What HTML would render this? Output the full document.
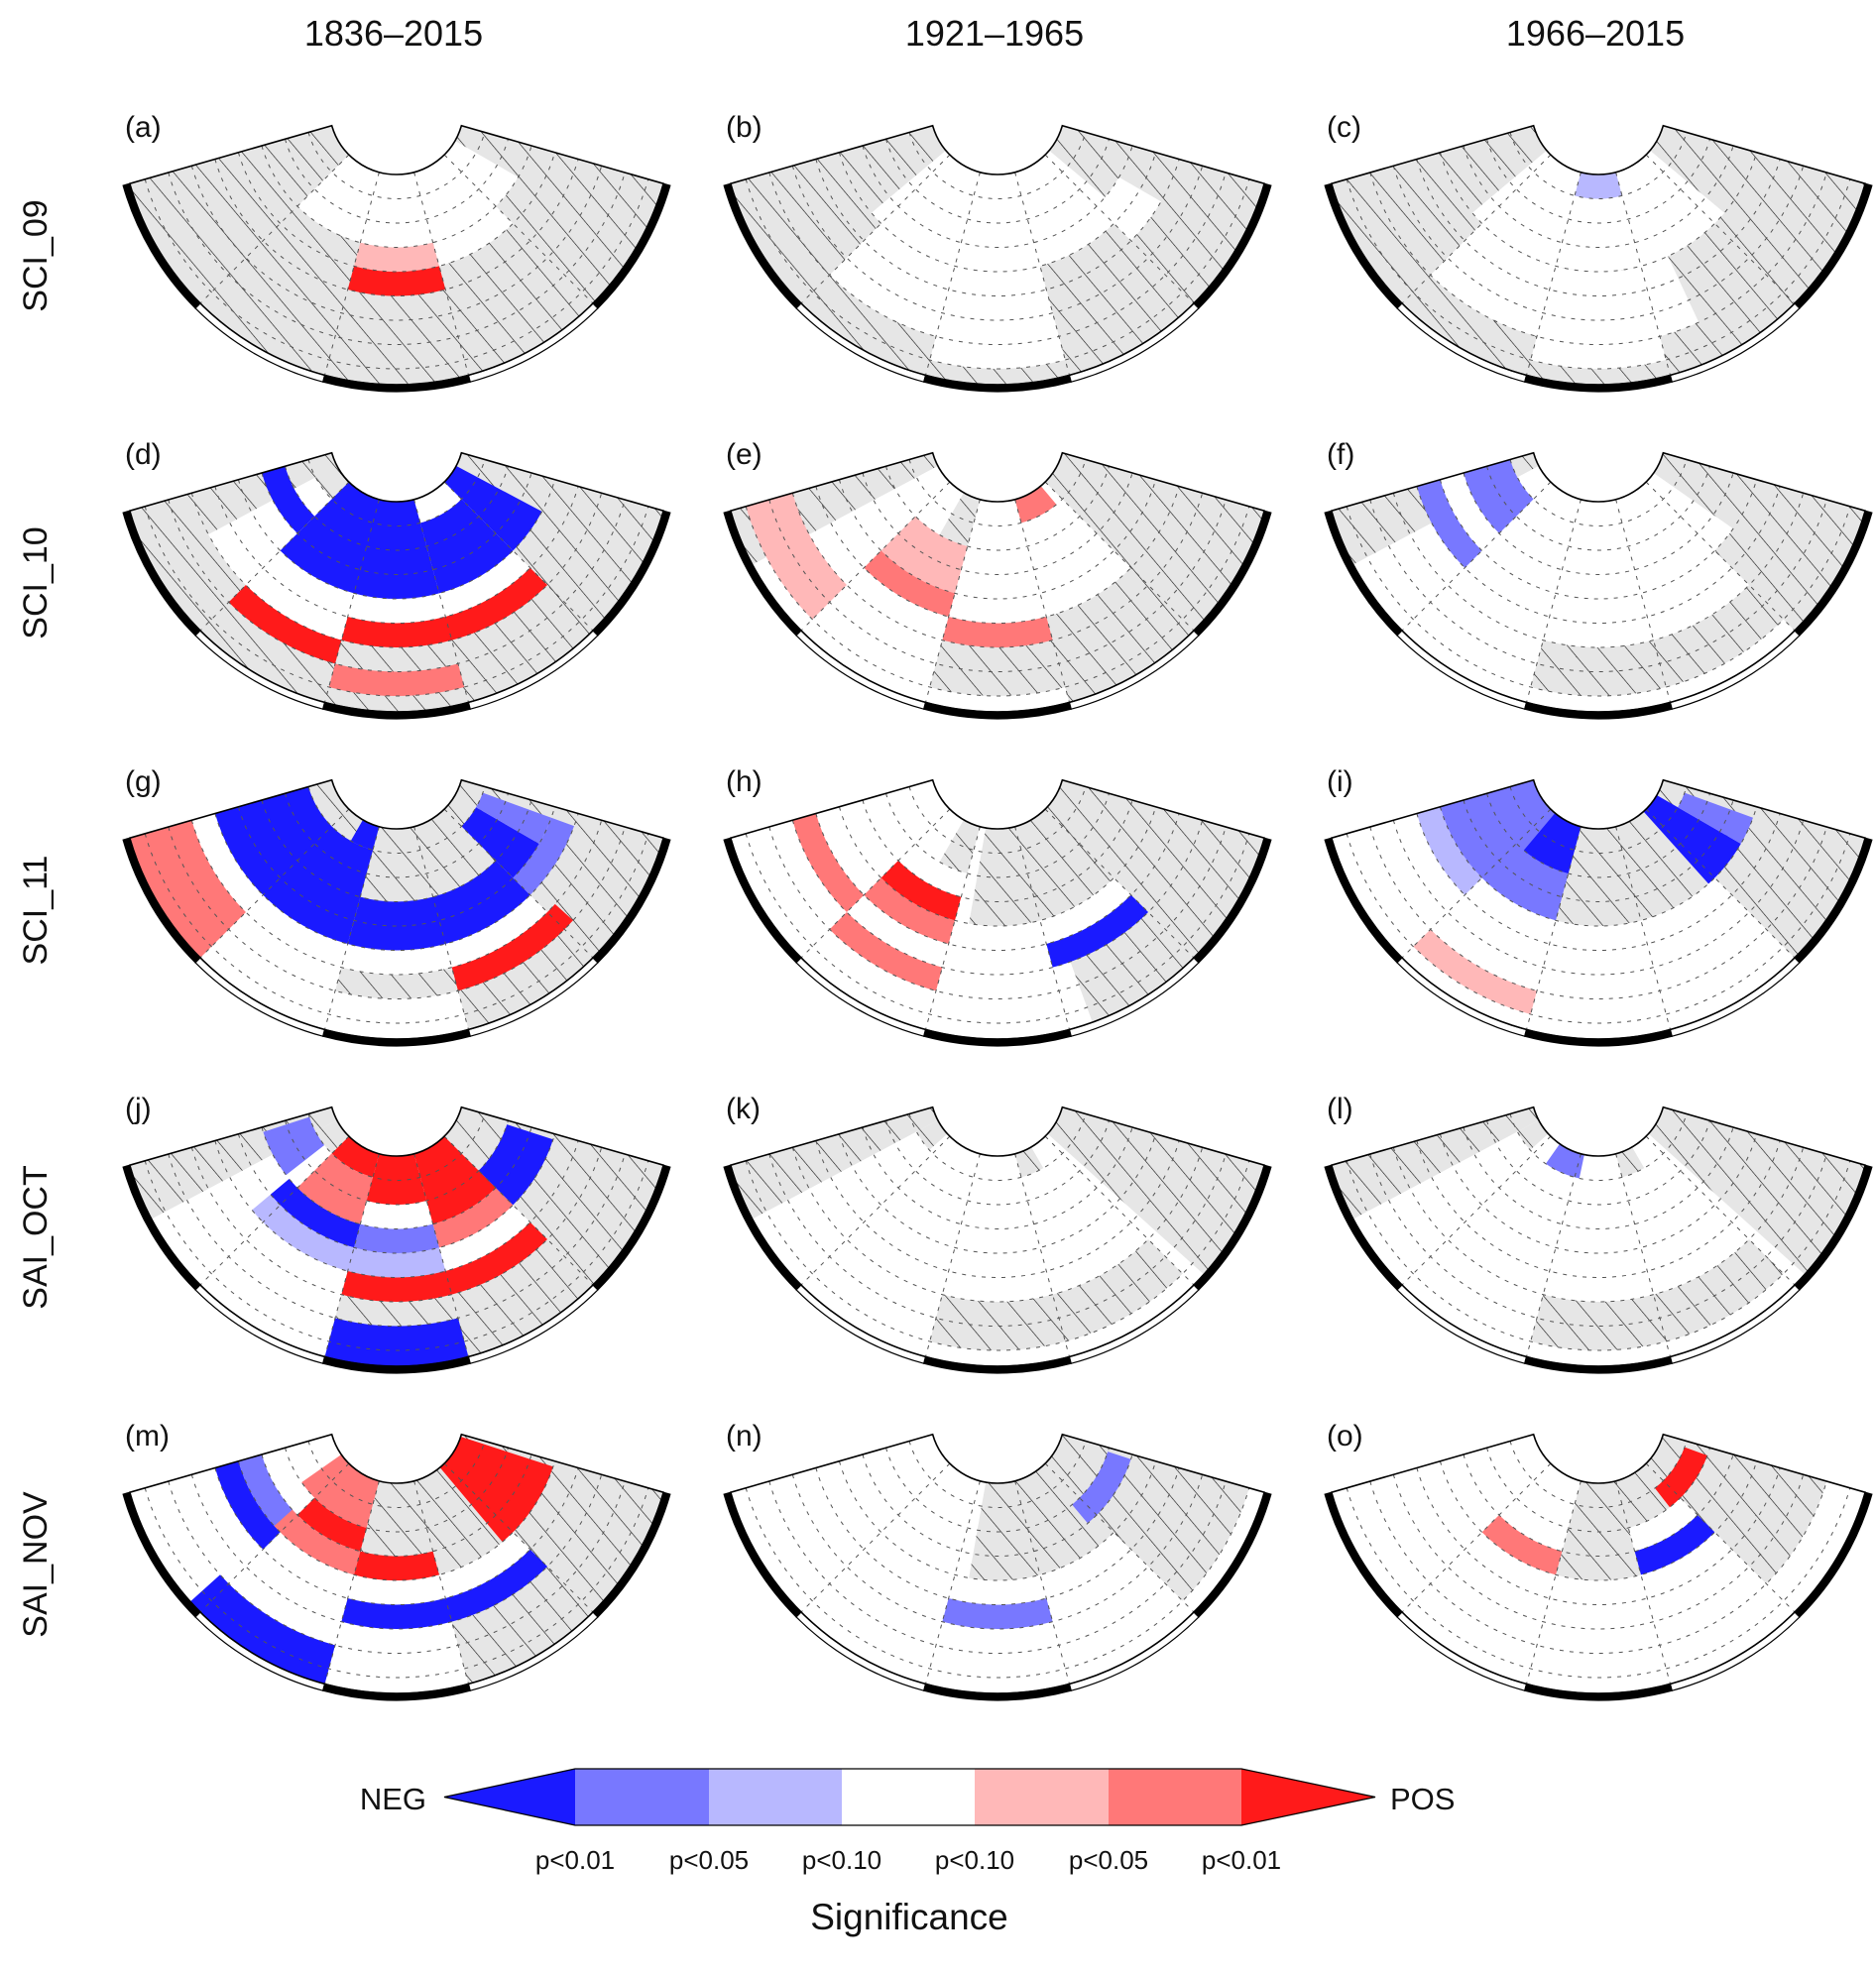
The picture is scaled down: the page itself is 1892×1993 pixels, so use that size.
<!DOCTYPE html>
<html><head><meta charset="utf-8">
<style>
html,body{margin:0;padding:0;background:#fff;}
svg{display:block;font-family:"Liberation Sans",Arial,sans-serif;}
</style></head>
<body>
<svg id="fig" xmlns="http://www.w3.org/2000/svg" width="1892" height="1993" viewBox="0 0 1892 1993">
<defs>
<pattern id="hatch" patternUnits="userSpaceOnUse" width="22" height="22" patternTransform="rotate(-40)">
<rect width="22" height="22" fill="#e6e6e6"/>
<line x1="0" y1="0" x2="0" y2="22" stroke="#111" stroke-width="1.2"/>
</pattern>
</defs>
<g id="panels"></g>
<g id="legend"></g>
</svg>
<script>
// ---- data ----
const colTitles = ["1836\u20132015", "1921\u20131965", "1966\u20132015"];
const rowLabels = ["SCI_09", "SCI_10", "SCI_11", "SAI_OCT", "SAI_NOV"];
const panelLetters = ["a","b","c","d","e","f","g","h","i","j","k","l","m","n","o"];
const panelBg = ["G","G","G","G","G","G","G","W","W","W","W","W","W","W","W"];
// cells: [bandStart, bandEnd, lonStart(deg), lonEnd(deg), code]
const cellsA = [[0,3,-45,60,"W"],[3,4,15,45,"W"],[3,4,-15,15,1],[4,5,-15,15,3]];
const cellsB = [[0,4,-50,50,"W"],[4,7,-45,15,"W"],[7,8,-15,15,"W"],[3,5,45,60,"W"]];
const cellsC = [[0,4,-50,50,"W"],[4,7,-45,25,"W"],[7,8,-15,15,"W"],[0,1,-15,15,-1]];
const cellsD = [[1,6,-62,-45,"W"],[4,6,-45,-15,"W"],[4,5,-15,45,"W"],[0,4,-45,15,-3],[1,4,15,45,-3],[0,1,15,45,"W"],[0,4,45,62,-3],[2,3,-75,-45,-3],[5,6,-15,45,3],[6,7,-45,-15,3],[7,8,-15,15,2]];
const cellsE = [[0,9,-62,15,"W"],[0,2,-30,-15,"G"],[6,8,-15,15,"G"],[0,5,15,45,"W"],[6,8,-75,-45,1],[2,4,-45,-15,1],[4,5,-45,-15,2],[5,6,-15,15,2],[0,1,15,40,2]];
const cellsF = [[0,9,-62,45,"W"],[6,8,-15,45,"G"],[0,4,45,55,"W"],[1,3,-75,-45,-2],[3,4,-75,-45,"W"],[4,5,-75,-45,-2]];
const cellsG = [[5,9,-75,15,"W"],[5,6,15,45,"W"],[6,7,-15,15,"G"],[6,9,-75,-45,2],[1,5,-75,-15,-3],[0,1,-30,-15,-3],[3,5,-15,45,-3],[1,4,45,60,-3],[1,4,60,70,-2],[4,5,45,70,-2],[6,7,15,48,3]];
const cellsH = [[0,4,-10,45,"G"],[0,9,45,75,"G"],[6,9,20,45,"G"],[0,2,-30,-15,"G"],[5,6,-75,-45,2],[3,4,-45,-15,3],[4,5,-45,-15,2],[6,7,-45,-15,2],[5,6,15,45,-3]];
const cellsI = [[0,4,-15,45,"G"],[0,9,45,75,"G"],[0,4,-75,-15,-2],[0,2,-40,-15,-3],[4,5,-75,-45,-1],[0,4,42,60,-3],[1,4,60,70,-2],[7,8,-45,-15,1]];
const cellsJ = [[0,9,-75,-62,"G"],[0,9,45,75,"G"],[6,9,15,45,"G"],[6,7,-15,15,"G"],[0,1,-62,-45,"G"],[0,1,-45,-15,3],[1,3,-45,-15,2],[0,2,-15,15,3],[0,3,15,45,3],[3,4,15,45,2],[2,4,45,72,-3],[1,3,-72,-52,-2],[3,4,-50,-15,-3],[3,4,-15,15,-2],[4,5,-50,15,-1],[5,6,-15,45,3],[7,9,-15,15,-3]];
const cellsK = [[0,9,-75,-62,"G"],[0,9,48,75,"G"],[6,8,-15,45,"G"],[0,1,-62,-48,"G"],[0,1,15,30,"G"]];
const cellsL = [[0,9,-75,-62,"G"],[0,9,48,75,"G"],[6,8,-15,45,"G"],[0,1,-62,-48,"G"],[0,1,15,30,"G"],[0,1,-35,-12,-2]];
const cellsM = [[0,9,45,75,"G"],[6,9,15,45,"G"],[0,4,-15,45,"G"],[4,5,-75,-45,-3],[3,4,-75,-45,-2],[0,2,-55,-15,2],[2,3,-45,-15,3],[3,4,-48,-15,2],[3,4,-15,15,3],[5,6,-15,45,-3],[7,9,-48,-15,-3],[0,4,40,72,3]];
const cellsN = [[0,4,-10,45,"G"],[0,8,45,75,"G"],[2,3,40,72,-2],[5,6,-15,15,-2]];
const cellsO = [[0,4,-15,15,"G"],[0,7,45,75,"G"],[0,2,15,45,"G"],[1,2,38,70,3],[3,4,15,45,-3],[3,4,-45,-15,2]];
const panelCells = [cellsA,cellsB,cellsC,cellsD,cellsE,cellsF,cellsG,cellsH,cellsI,cellsJ,cellsK,cellsL,cellsM,cellsN,cellsO];
const legendCodes = [-3,-2,-1,0,1,2,3];
const legendLabels = ["p<0.01","p<0.05","p<0.10","p<0.10","p<0.05","p<0.01"];

// ---- geometry ----
const NS = "http://www.w3.org/2000/svg";
const colors = {"-3":"#1a1aff","-2":"#7878ff","-1":"#b8b8ff","0":"#ffffff","1":"#ffb8b8","2":"#ff7878","3":"#ff1a1a","W":"#ffffff","G":"url(#hatch)"};
const TH = 74, R0 = 68, DR = 24.5, ROUT = 280;
function bandR(k){ return Math.min(R0 + DR*k, ROUT); }
function clampT(t){ return Math.max(-TH, Math.min(TH, t)); }
function cxOf(col){ return 400 + col*606; }
function cyOf(row){ return 108 + row*330; }
function pt(cx,cy,r,t){ const a=t*Math.PI/180; return [cx + r*Math.sin(a), cy + r*Math.cos(a)]; }
function sectorPath(cx,cy,r0,r1,t0,t1){
  t0=clampT(t0); t1=clampT(t1);
  const a=pt(cx,cy,r0,t0), b=pt(cx,cy,r0,t1), c=pt(cx,cy,r1,t1), d=pt(cx,cy,r1,t0);
  return `M${a[0].toFixed(2)},${a[1].toFixed(2)} A${r0},${r0} 0 0 0 ${b[0].toFixed(2)},${b[1].toFixed(2)} L${c[0].toFixed(2)},${c[1].toFixed(2)} A${r1},${r1} 0 0 1 ${d[0].toFixed(2)},${d[1].toFixed(2)} Z`;
}
function mk(tag, attrs, parent){
  const e=document.createElementNS(NS,tag);
  for(const k in attrs) e.setAttribute(k, attrs[k]);
  parent.appendChild(e); return e;
}
const root=document.getElementById("panels");

colTitles.forEach((t,i)=>{
  const e=mk("text",{x:cxOf(i)-3,y:46,"font-size":36,"text-anchor":"middle",fill:"#111"},root);
  
  
  e.textContent=t;
});
rowLabels.forEach((t,i)=>{
  const y=cyOf(i)+150;
  const e=mk("text",{x:0,y:0,"font-size":34,"text-anchor":"middle",fill:"#111",transform:`translate(47,${y}) rotate(-90)`},root);
  
  
  e.textContent=t;
});

panelLetters.forEach((L,idx)=>{
  const row=Math.floor(idx/3), col=idx%3;
  const cx=cxOf(col), cy=cyOf(row);
  const g=mk("g",{},root);
  
  
  const lab=mk("text",{x:cx-274,y:cy+30,"font-size":30,fill:"#111"},g);
  
  
  lab.textContent="("+L+")";
  const bg=mk("path",{d:sectorPath(cx,cy,R0,ROUT,-TH,TH),fill:colors[panelBg[idx]],stroke:"none"},g);
  
  
  panelCells[idx].forEach(c=>{
    const p=mk("path",{d:sectorPath(cx,cy,bandR(c[0]),bandR(c[1]),c[2],c[3]),fill:colors[String(c[4])],stroke:"none"},g);
    
    
  });
  for(let k=1;k<=8;k++){
    const r=bandR(k), a=pt(cx,cy,r,-TH), b=pt(cx,cy,r,TH);
    const e=mk("path",{d:`M${a[0]},${a[1]} A${r},${r} 0 0 0 ${b[0]},${b[1]}`,fill:"none",stroke:"#555","stroke-width":1,"stroke-dasharray":"4,6"},g);
    
    
  }
  [-45,-15,15,45].forEach(t=>{
    const a=pt(cx,cy,R0,t), b=pt(cx,cy,ROUT,t);
    const e=mk("line",{x1:a[0],y1:a[1],x2:b[0],y2:b[1],stroke:"#555","stroke-width":1,"stroke-dasharray":"4,6"},g);
    
    
  });
  const segs=[[-TH,-45,1],[-45,-15,0],[-15,15,1],[15,45,0],[45,TH,1]];
  segs.forEach(s=>{
    const p=mk("path",{d:sectorPath(cx,cy,ROUT,ROUT+7,s[0],s[1]),fill:s[2]?"#000":"#fff",stroke:"#000","stroke-width":1.2},g);
    
    
  });
  const o=mk("path",{d:sectorPath(cx,cy,R0,ROUT,-TH,TH),fill:"none",stroke:"#000","stroke-width":1.6},g);
  
  
});

// ---- colorbar ----
const lg=document.getElementById("legend");
const edges=[580,715,849,983,1118,1252];
const yT=1784, yB=1841, yM=1812.5;
legendCodes.forEach((c,i)=>{
  let d;
  if(i===0) d=`M448,${yM} L${edges[0]},${yT} L${edges[0]},${yB} Z`;
  else if(i===legendCodes.length-1) d=`M${edges[5]},${yT} L1387,${yM} L${edges[5]},${yB} Z`;
  else d=`M${edges[i-1]},${yT} L${edges[i]},${yT} L${edges[i]},${yB} L${edges[i-1]},${yB} Z`;
  const p=mk("path",{d:d,fill:colors[String(c)],stroke:"none"},lg);
  
  
});
const ol=mk("path",{d:`M448,${yM} L${edges[0]},${yT} L${edges[5]},${yT} L1387,${yM} L${edges[5]},${yB} L${edges[0]},${yB} Z`,fill:"none",stroke:"#000","stroke-width":1.2},lg);


legendLabels.forEach((t,i)=>{
  const e=mk("text",{x:edges[i],y:1885,"font-size":26,"text-anchor":"middle",fill:"#111"},lg);
  
  
  e.textContent=t;
});
const neg=mk("text",{x:430,y:1825,"font-size":31,"text-anchor":"end",fill:"#111"},lg);


neg.textContent="NEG";
const pos=mk("text",{x:1402,y:1825,"font-size":31,"text-anchor":"start",fill:"#111"},lg);


pos.textContent="POS";
const ttl=mk("text",{x:917,y:1946,"font-size":37,"text-anchor":"middle",fill:"#111"},lg);


ttl.textContent="Significance";
</script>
</body></html>
